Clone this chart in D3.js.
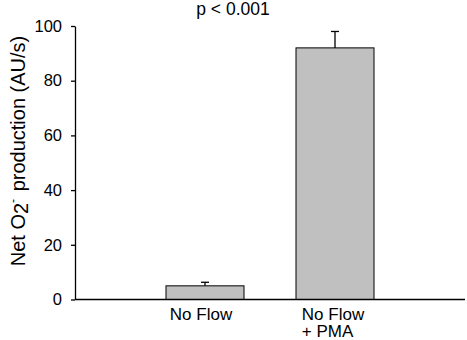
<!DOCTYPE html>
<html>
<head>
<meta charset="utf-8">
<script src="https://cdn.jsdelivr.net/npm/d3@7"></script>
<style>
  html, body { margin: 0; padding: 0; background: #fff; }
  text { font-family: Arial, "Liberation Sans", sans-serif; fill: #000; }
</style>
</head>
<body>
<svg id="chart" width="467" height="340"></svg>
<script>
const categories = ["No Flow", "No Flow|+ PMA"];
const values = [5, 92];
const errors = [1.3, 6];
const yTicks = [0, 20, 40, 60, 80, 100];
const annotation = "p < 0.001";

const svg = d3.select("#chart");
const x = d3.scalePoint().domain(categories).range([75, 465]).padding(1);
const y = d3.scaleLinear().domain([0, 100]).range([299.5, 26]);
const barW = x.step() * 0.6;

// bars
svg.selectAll("rect.bar").data(values).enter().append("rect")
  .attr("x", (d, i) => x(categories[i]) - barW / 2)
  .attr("y", d => y(d))
  .attr("width", barW)
  .attr("height", d => y(0) - y(d))
  .attr("fill", "#c0c0c0")
  .attr("stroke", "#000")
  .attr("stroke-width", 1);

// error bars
values.forEach((v, i) => {
  const cx = x(categories[i]);
  svg.append("line").attr("x1", cx).attr("x2", cx)
    .attr("y1", y(v)).attr("y2", y(v + errors[i]))
    .attr("stroke", "#000").attr("stroke-width", 1.3);
  svg.append("line").attr("x1", cx - 4).attr("x2", cx + 4)
    .attr("y1", y(v + errors[i])).attr("y2", y(v + errors[i]))
    .attr("stroke", "#000").attr("stroke-width", 1.3);
});

// y axis
const yAxis = svg.append("g").attr("transform", "translate(75,0)")
  .call(d3.axisLeft(y).tickValues(yTicks).tickSize(4).tickPadding(9).tickSizeOuter(0));
yAxis.select(".domain").attr("stroke", "#000").attr("stroke-width", 1.3);
yAxis.selectAll(".tick line").attr("stroke", "#000").attr("stroke-width", 1.3);
yAxis.selectAll(".tick text").attr("font-size", 16.5).attr("font-family", "Arial, 'Liberation Sans', sans-serif").attr("fill", "#000");

// x axis line
const xAxis = svg.append("g").attr("transform", `translate(0,${y(0)})`)
  .call(d3.axisBottom(x).tickSize(0).tickFormat(""));
xAxis.select(".domain").attr("stroke", "#000").attr("stroke-width", 1.5)
  .attr("d", "M75,0H465");

// category labels
categories.forEach((c, i) => {
  const lines = c.split("|");
  const texts = lines.map((l, j) => svg.append("text")
    .attr("font-size", 17).attr("text-anchor", "start")
    .attr("y", 320 + j * 17).text(l));
  const w = texts[0].node().getComputedTextLength();
  const cx = x(c) - (i === 0 ? 4 : 2);
  texts.forEach(t => t.attr("x", cx - w / 2));
});

// annotation
svg.append("text").attr("x", 233).attr("y", 15).attr("text-anchor", "middle")
  .attr("font-size", 17.5).text(annotation);

// y label
const yl = svg.append("text")
  .attr("transform", "translate(25,151) rotate(-90)")
  .attr("text-anchor", "middle").attr("font-size", 20);
yl.append("tspan").text("Net O");
yl.append("tspan").attr("baseline-shift", "-3").text("2");
yl.append("tspan").attr("baseline-shift", "8").attr("font-size", 12).text("-");
yl.append("tspan").attr("dx", 2).text(" production (AU/s)");
</script>
</body>
</html>
